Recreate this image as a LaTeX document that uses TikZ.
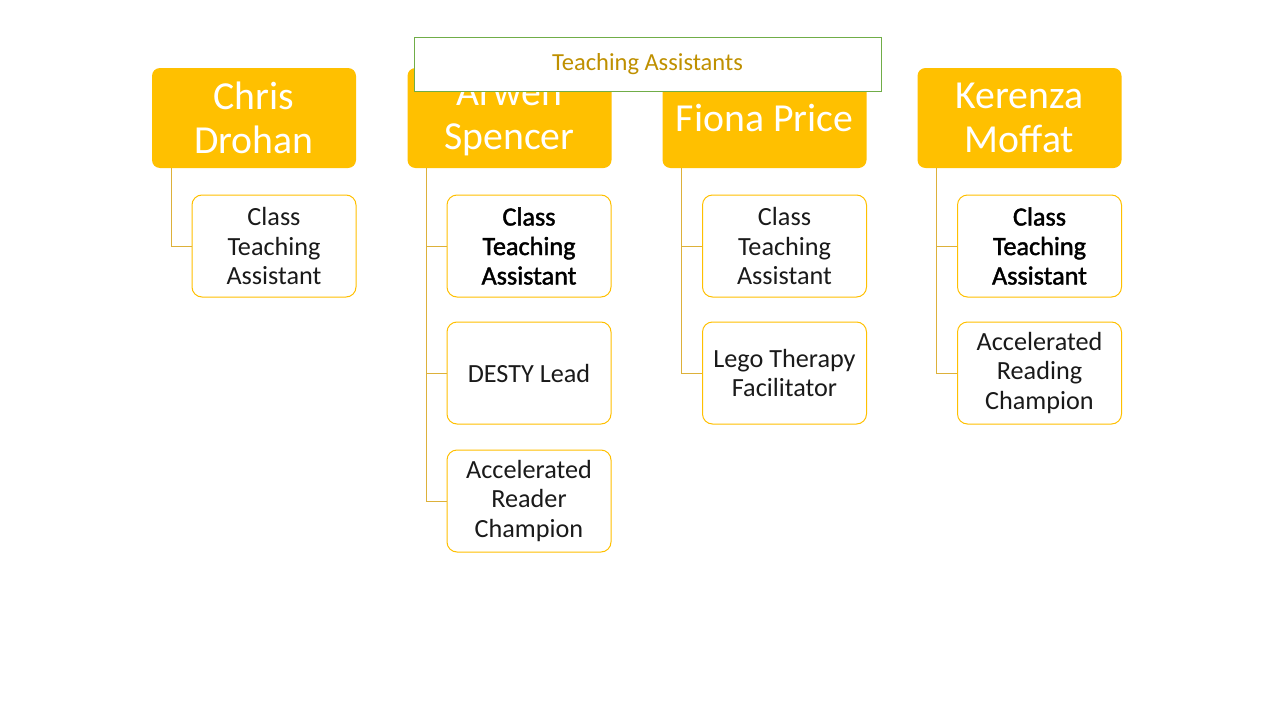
\documentclass[tikz,border=0pt]{standalone}
\usepackage{fontspec}
\setmainfont{Carlito}
\newfontfamily\semibold[FakeBold=1.6]{Carlito}
\definecolor{gold}{HTML}{FFC000}
\definecolor{goldline}{HTML}{DDB13A}
\definecolor{titletxt}{HTML}{BF9000}
\definecolor{titleframe}{HTML}{70AD47}
\definecolor{txt}{HTML}{1A1A1A}
\begin{document}
\begin{tikzpicture}[x=1pt,y=-1pt,
  head/.style={fill=gold, draw=none, rounded corners=8pt, minimum width=204pt, minimum height=100pt,
    inner sep=0pt, align=center, text=white, font=\fontsize{39.7}{44}\selectfont},
  child/.style={fill=white, draw=gold, line width=1pt, rounded corners=10pt, minimum width=164pt,
    minimum height=102pt, inner sep=0pt, align=center, text=txt, font=\fontsize{26.2}{29.5}\selectfont},
  boldchild/.style={child, text=black, font=\fontsize{26.2}{29.5}\semibold},
  conn/.style={draw=goldline, line width=1pt},
  titlebox/.style={fill=white, draw=titleframe, line width=1pt, minimum width=467pt, minimum height=54pt,
    inner sep=0pt, text=titletxt, font=\fontsize{24.5}{28}\selectfont}]
\useasboundingbox (0,0) rectangle (1280,720);
\fill[white] (0,0) rectangle (1280,720);
% headers
\node[head] (h1) at (254,118) {Chris\\Drohan};
\node[head] (h2) at (509.5,118) {Arwen\\Spencer};
\node[head] (h3) at (764.5,118) {Fiona Price};
\node[head] (h4) at (1019.5,118) {Kerenza\\Moffat};
% children
\node[child] (c11) at (274,246) {Class\\Teaching\\Assistant};
\node[boldchild] (c21) at (529,246) {Class\\Teaching\\Assistant};
\node[child] (c22) at (529,373) {DESTY Lead};
\node[child] (c23) at (529,501) {Accelerated\\Reader\\Champion};
\node[child] (c31) at (784.5,246) {Class\\Teaching\\Assistant};
\node[child] (c32) at (784.5,373) {Lego Therapy\\Facilitator};
\node[boldchild] (c41) at (1039.5,246) {Class\\Teaching\\Assistant};
\node[child] (c42) at (1039.5,373) {Accelerated\\Reading\\Champion};
% connectors
\draw[conn] ([xshift=20pt]h1.south west) |- (c11.west);
\draw[conn] ([xshift=19pt]h2.south west) |- (c21.west);
\draw[conn] ([xshift=19pt]h2.south west) |- (c22.west);
\draw[conn] ([xshift=19pt]h2.south west) |- (c23.west);
\draw[conn] ([xshift=19pt]h3.south west) |- (c31.west);
\draw[conn] ([xshift=19pt]h3.south west) |- (c32.west);
\draw[conn] ([xshift=19pt]h4.south west) |- (c41.west);
\draw[conn] ([xshift=19pt]h4.south west) |- (c42.west);
% title
\node[titlebox] (t) at (647.5,64) {\raisebox{-1.5pt}{Teaching Assistants}};
\end{tikzpicture}
\end{document}
